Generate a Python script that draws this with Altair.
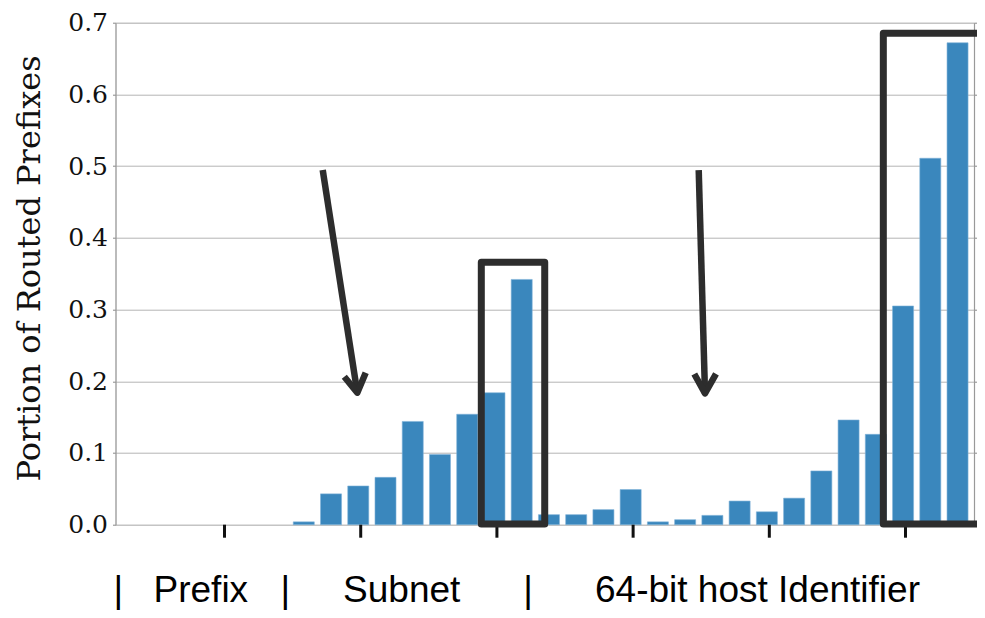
import altair as alt
import pandas as pd

# ---- data ----
bar_index = list(range(32))
portion = [0, 0, 0, 0, 0, 0, 0,
           0.004, 0.043, 0.054, 0.066, 0.144, 0.098, 0.154, 0.184, 0.342,
           0.014, 0.014, 0.021, 0.049, 0.004, 0.007, 0.013, 0.033, 0.018,
           0.037, 0.075, 0.146, 0.126, 0.305, 0.511, 0.672]
x_ticks = [4.09, 9.09, 14.09, 19.09, 24.09, 29.09]
y_ticks = [0.0, 0.1, 0.2, 0.3, 0.4, 0.5, 0.6, 0.7]

# annotation geometry (data units)
box1_x = [13.517, 15.845]
box1_y = [0.3659, 0.001]
box2_x = [32.3, 28.275, 28.275, 32.3]
box2_y = [0.6852, 0.6852, 0.001, 0.001]
arrow_x = [7.695, 8.965, 8.487, 8.965, 9.273,
           21.498, 21.729, 21.336, 21.729, 22.133]
arrow_y = [0.4945, 0.1841, 0.2064, 0.1841, 0.2120,
           0.4945, 0.1832, 0.2102, 0.1832, 0.2102]
arrow_seg = ["a1", "a1", "h1", "h1", "h1", "a2", "a2", "h2", "h2", "h2"]
label_text = ["|", "Prefix", "|", "Subnet", "|", "64-bit host Identifier"]
label_x = [0.191, 3.220, 6.322, 10.595, 15.231, 23.656]
label_y = [-0.1075] * 6

BLUE = "#3a87bd"
DARK = "#2d2d2d"
GREY = "#999999"

bars = pd.DataFrame({"i": bar_index, "v": portion})
bars["x0"] = bars["i"] - 0.386
bars["x1"] = bars["i"] + 0.386

xs = alt.Scale(domain=[0.088, 31.604], nice=False, zero=False)
ys = alt.Scale(domain=[0, 0.7], nice=False, zero=True)

bar_layer = alt.Chart(bars).transform_filter("datum.v > 0").mark_rect(
    color=BLUE, stroke="#7fb2d8", strokeWidth=0.6
).encode(
    x=alt.X("x0:Q", scale=xs, axis=alt.Axis(
        values=x_ticks, labels=False, title=None, grid=False,
        tickSize=13, tickWidth=3, tickColor="#111111",
        domainColor=GREY, domainWidth=1.2)),
    x2="x1:Q",
    y=alt.Y("v:Q", scale=ys, axis=alt.Axis(
        values=y_ticks, format=".1f", title="Portion of Routed Prefixes",
        labelFont="DejaVu Serif", labelFontSize=25, labelColor="#111111",
        labelPadding=5, tickSize=3, tickColor="#888888",
        domainColor=GREY, domainWidth=1.2,
        grid=True, gridColor="#b4b4b4", gridWidth=1,
        titleFont="DejaVu Serif", titleFontSize=32, titleFontWeight="normal",
        titleColor="#111111", titleX=-76.5, titleY=245.3,
        titleBaseline="alphabetic", titleAlign="center", titleAngle=-90)),
    y2=alt.datum(0),
)

# x-axis tick marks drawn from the tick values through the x scale
xtick_layer = alt.Chart(pd.DataFrame({"t": x_ticks})).mark_rule(
    color="#111111", strokeWidth=3
).encode(
    x=alt.X("t:Q", scale=xs, axis=None),
    y=alt.value(502),
    y2=alt.value(515),
)

right_axis = alt.Chart(bars).mark_point(opacity=0).encode(
    x=alt.X("i:Q", scale=xs, axis=None),
    y=alt.Y("v:Q", scale=ys, axis=alt.Axis(
        orient="right", values=y_ticks, labels=False, title=None, grid=False,
        tickSize=3, tickColor="#888888", domainColor=GREY, domainWidth=1.2)),
)

box1 = alt.Chart(pd.DataFrame({"x": [box1_x[0]], "x2": [box1_x[1]],
                               "y": [box1_y[0]], "y2": [box1_y[1]]})).mark_rect(
    fill=None, filled=False, stroke=DARK, strokeWidth=7, strokeJoin="round"
).encode(
    x=alt.X("x:Q", scale=xs, axis=None), x2="x2:Q",
    y=alt.Y("y:Q", scale=ys, axis=None), y2="y2:Q",
)

box2 = alt.Chart(pd.DataFrame({"x": box2_x, "y": box2_y,
                               "o": list(range(4))})).mark_line(
    color=DARK, strokeWidth=7, strokeJoin="round", strokeCap="butt"
).encode(
    x=alt.X("x:Q", scale=xs, axis=None),
    y=alt.Y("y:Q", scale=ys, axis=None),
    order="o:Q",
)

arrows = alt.Chart(pd.DataFrame({"x": arrow_x, "y": arrow_y, "seg": arrow_seg,
                                 "o": list(range(len(arrow_x)))})).mark_line(
    color=DARK, strokeWidth=6.5, strokeJoin="round", strokeCap="butt"
).encode(
    x=alt.X("x:Q", scale=xs, axis=None),
    y=alt.Y("y:Q", scale=ys, axis=None),
    detail="seg:N",
    order="o:Q",
)

labels = alt.Chart(pd.DataFrame({"t": label_text, "x": label_x,
                                 "y": label_y})).mark_text(
    font="Liberation Sans", fontSize=37, color="#000000",
    align="center", baseline="alphabetic"
).encode(
    x=alt.X("x:Q", scale=xs, axis=None),
    y=alt.Y("y:Q", scale=ys, axis=None),
    text="t:N",
)

chart = alt.layer(bar_layer, xtick_layer, right_axis, box1, box2, arrows,
                  labels).resolve_axis(
    y="independent"
).properties(
    width=858.5, height=502,
    autosize=alt.AutoSizeParams(type="none"),
    padding={"left": 107.5, "top": 14.7, "right": 3, "bottom": 85.3},
).configure_view(
    stroke=GREY, strokeWidth=1.2
).configure(background="white")

chart.save("out.html", embed_options={"renderer": "svg", "actions": False})
